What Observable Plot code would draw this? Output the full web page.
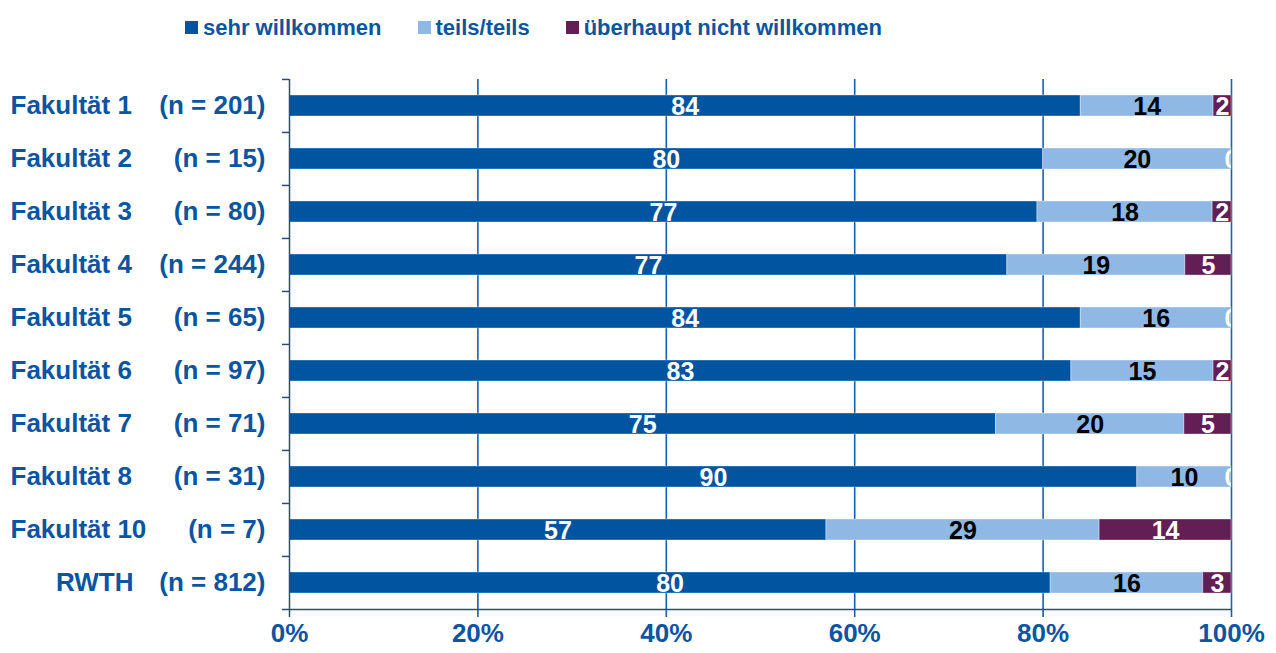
<!DOCTYPE html>
<html>
<head>
<meta charset="utf-8">
<script src="https://cdn.jsdelivr.net/npm/d3@7"></script>
<script src="https://cdn.jsdelivr.net/npm/@observablehq/plot@0.6"></script>
<style>
  html, body { margin: 0; padding: 0; background: #fff; }
  body { width: 1276px; height: 653px; overflow: hidden; font-family: "Liberation Sans", Arial, sans-serif; }
  #legend { height: 55px; display: flex; align-items: center; padding-left: 185px; box-sizing: border-box; }
  .item { display: flex; align-items: center; margin-right: 36px; font-size: 22px; font-weight: bold; color: #0a55a2; white-space: nowrap; }
  .sw { width: 13px; height: 13px; margin-right: 5px; display: inline-block; }
  svg { display: block; }
</style>
</head>
<body>
<div id="legend"></div>
<div id="chart"></div>
<script>
// ---- data ----
const categories = ["Fakultät 1", "Fakultät 2", "Fakultät 3", "Fakultät 4", "Fakultät 5",
                    "Fakultät 6", "Fakultät 7", "Fakultät 8", "Fakultät 10", "RWTH"];
const sampleSizes = [201, 15, 80, 244, 65, 97, 71, 31, 7, 812];
const responses = ["sehr willkommen", "teils/teils", "überhaupt nicht willkommen"];
const colors = ["#0054a0", "#8fb9e4", "#621e55"];
// bar lengths (percent)
const sehrValues  = [84.0, 80.0, 79.4, 76.2, 84.0, 83.0, 75.0, 90.0, 57.0, 80.8];
const teilsValues = [14.1, 20.0, 18.6, 18.9, 16.0, 15.1, 20.0, 10.0, 29.0, 16.2];
const nichtValues = [1.9, 0.0, 2.0, 4.9, 0.0, 1.9, 5.0, 0.0, 14.0, 3.0];
// printed labels
const sehrLabels  = [84, 80, 77, 77, 84, 83, 75, 90, 57, 80];
const teilsLabels = [14, 20, 18, 19, 16, 15, 20, 10, 29, 16];
const nichtLabels = [2, 0, 2, 5, 0, 2, 5, 0, 14, 3];
const xTicks = [0, 20, 40, 60, 80, 100];
const gridTicks = [20, 40, 60, 80, 100];

const valueSets = [sehrValues, teilsValues, nichtValues];
const labelSets = [sehrLabels, teilsLabels, nichtLabels];
const rows = [];
categories.forEach((c, i) => {
  responses.forEach((r, j) => {
    rows.push({cat: c, resp: r, value: valueSets[j][i], label: String(labelSets[j][i])});
  });
});

// ---- legend ----
const legend = document.getElementById("legend");
responses.forEach((r, j) => {
  const it = document.createElement("div");
  it.className = "item";
  const sw = document.createElement("span");
  sw.className = "sw";
  sw.style.background = colors[j];
  it.appendChild(sw);
  it.appendChild(document.createTextNode(r));
  legend.appendChild(it);
});

// ---- chart ----
const W = 1276, H = 598, mt = 24, mb = 43, ml = 289, mr = 45;
const step = (H - mt - mb) / categories.length;
const textBlue = "#0a55a2";
const axisColor = "#2f4b7a";
const gridColor = "#1c5ea8";

const stackOpts = (extra) => Plot.stackX({x: "value", y: "cat", z: "resp", order: responses, ...extra});

const chart = Plot.plot({
  width: W, height: H,
  marginTop: mt, marginBottom: mb, marginLeft: ml, marginRight: mr,
  style: {fontFamily: "'Liberation Sans', Arial, sans-serif", fontWeight: "bold", background: "#fff"},
  x: {domain: [0, 100], axis: null},
  y: {domain: categories, paddingInner: 0.6, paddingOuter: 0.3, axis: null},
  color: {domain: responses, range: colors},
  marks: [
    // grid lines (extend below the axis as ticks)
    Plot.ruleX(gridTicks, {x: d => d, stroke: gridColor, strokeWidth: 1.6, insetBottom: -7}),
    // bars
    Plot.barX(rows, Plot.stackX({x: "value", y: "cat", fill: "resp", order: responses,
      stroke: "#ffffff", strokeOpacity: 0.35, strokeWidth: 1})),
    // value labels
    Plot.text(rows, stackOpts({text: d => d.resp === responses[0] ? d.label : null,
      fill: "white", fontSize: 25, dy: 1})),
    Plot.text(rows, stackOpts({text: d => d.resp === responses[1] ? d.label : null,
      fill: "black", fontSize: 25, dy: 1})),
    Plot.text(rows, stackOpts({text: d => d.resp === responses[2] ? d.label : null,
      fill: "white", fontSize: 25, dy: 1, clip: true})),
    // y axis line (0%) with tick below
    Plot.ruleX([0], {x: d => d, stroke: axisColor, strokeWidth: 1.5, insetBottom: -7}),
    // x axis line (bottom) with left tick
    Plot.ruleY(categories.slice(-1), {y: d => d, dy: step / 2, stroke: axisColor, strokeWidth: 1.5, insetLeft: -7}),
    // y boundary ticks
    Plot.ruleY(categories, {y: d => d, dy: -step / 2, x1: () => 0, x2: () => 0, insetLeft: -7,
      stroke: axisColor, strokeWidth: 1.5}),
    // x tick labels
    Plot.text(xTicks, {x: d => d, text: d => d + "%", frameAnchor: "bottom", dy: 31,
      fontSize: 26, fill: textBlue}),
    // category labels
    Plot.text(categories.filter(c => c !== "RWTH"), {y: d => d, text: d => d, frameAnchor: "left",
      textAnchor: "start", dx: 10 - ml, fontSize: 26, fill: textBlue}),
    Plot.text(categories.filter(c => c === "RWTH"), {y: d => d, text: d => d, frameAnchor: "left",
      textAnchor: "end", dx: 133 - ml, fontSize: 26, fill: textBlue}),
    Plot.text(categories.map((c, i) => ({cat: c, n: sampleSizes[i]})), {y: "cat", text: d => `(n = ${d.n})`,
      frameAnchor: "left", textAnchor: "end", dx: 265 - ml, fontSize: 26, fill: textBlue})
  ]
});
document.getElementById("chart").appendChild(chart);
</script>
</body>
</html>
